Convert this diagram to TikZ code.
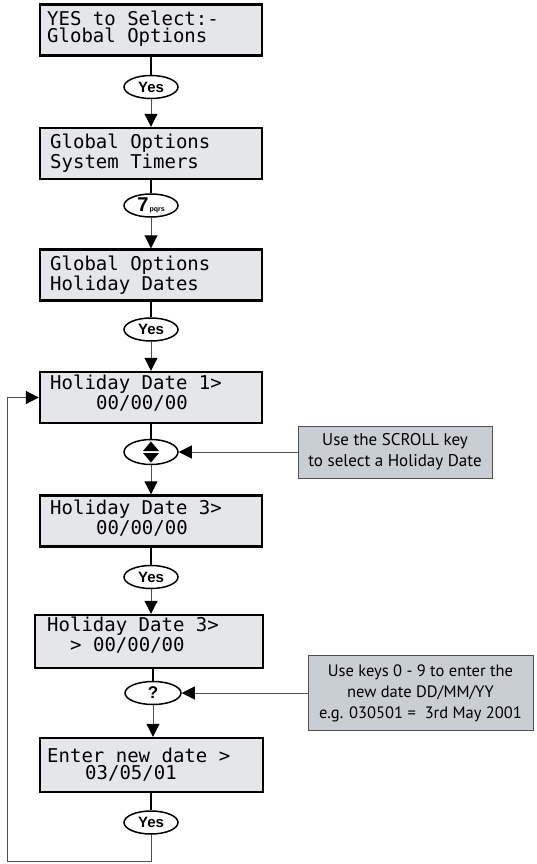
\documentclass[tikz,border=0pt]{standalone}
\usepackage{fontspec}
\setmainfont{Liberation Sans}
\newfontfamily\lcdfont{DejaVu Sans Mono}
\newfontfamily\infofont{PT Sans}
\usetikzlibrary{arrows.meta,shapes.geometric}
\definecolor{lcdfill}{HTML}{E4E6EA}
\definecolor{infofill}{HTML}{C9CDD4}
\definecolor{linegray}{HTML}{505050}
\begin{document}
\begin{tikzpicture}[x=1pt,y=-1pt,
 lcd/.style={draw=black, line width=2.4pt, fill=lcdfill, minimum width=222pt, minimum height=51pt, inner sep=0pt},
 lcdtxt/.style={anchor=base west, inner sep=0pt, align=left, font=\lcdfont\fontsize{19}{#1}\selectfont},
 lcdtxt/.default=14,
 key/.style={ellipse, draw=black, line width=1.5pt, fill=white, minimum width=54pt, minimum height=23pt, inner sep=0pt, font=\bfseries\fontsize{15}{15}\selectfont},
 stem/.style={line width=2.4pt},
 flow/.style={draw=linegray, line width=1pt, -{Triangle[width=13pt,length=13pt,color=black]}},
 info/.style={draw=linegray, line width=1pt, fill=infofill, inner sep=0pt, align=center, font=\infofont\fontsize{#1}{21}\selectfont},
 info/.default=16,
]
\useasboundingbox (0,0) rectangle (536,864);
\fill[white] (0,0) rectangle (536,864);

% LCD boxes
\node[lcd] (b1) at (151,30) {};
\node[lcd] (b2) at (151,153.5) {};
\node[lcd] (b3) at (151,275) {};
\node[lcd] (b4) at (151,397.5) {};
\node[lcd] (b5) at (151,521) {};
\node[lcd, minimum width=228pt, minimum height=53pt] (b6) at (149,641.5) {};
\node[lcd, minimum width=223pt, minimum height=54pt] (b7) at (151.5,765) {};

% LCD texts (anchored at the baseline of the last line)
\node[lcdtxt=17] (t1) at (47,43) {YES to Select:-\\Global Options};
\node[lcdtxt=18] (t2) at (50,168) {Global Options\\System Timers};
\node[lcdtxt=16] (t3) at (50,290) {Global Options\\Holiday Dates};
\node[lcdtxt=14] (t4) at (50,409) {Holiday Date 1>\\\hspace*{46pt}00/00/00};
\node[lcdtxt=14] (t5) at (50,534) {Holiday Date 3>\\\hspace*{46pt}00/00/00};
\node[lcdtxt=13] (t6) at (47,651) {Holiday Date 3>\\\hspace*{23pt}> 00/00/00};
\node[lcdtxt=17] (t7) at (47,779) {Enter new date >\\\hspace*{38pt}03/05/01};

% keys
\node[key] (o1) at (151,87) {Yes};
\node[key] (o2) at (151,205.5) {\fontsize{20}{20}\selectfont 7\fontsize{7}{7}\selectfont\,pqrs};
\node[key] (o3) at (151,329.5) {Yes};
\node[key, minimum height=25pt] (sc) at (151,452) {};
\fill ([shift={(-8,-1)}]sc.center) -- ++(16,0) -- ++(-8,-9.5) -- cycle;
\fill ([shift={(-8,1)}]sc.center) -- ++(16,0) -- ++(-8,9.5) -- cycle;
\node[key] (o5) at (151,577) {Yes};
\node[key, minimum width=56pt, font=\bfseries\fontsize{17}{17}\selectfont] (q) at (153,693) {?};
\node[key] (o7) at (151,822.5) {Yes};

% info boxes
\node[info=17, minimum width=194pt, minimum height=52pt] (i1) at (395,452) {Use the SCROLL key\\to select a Holiday Date};
\node[info=16.5, minimum width=225pt, minimum height=75pt] (i2) at (420.5,693) {Use keys 0 - 9 to enter the\\new date DD/MM/YY\\e.g. 030501 =\ \ 3rd May 2001};

% connectors
\draw[stem] (b1.south) -- (o1.north);
\draw[flow] (o1.south) -- (b2.north);
\draw[stem] (b2.south) -- (o2.north);
\draw[flow] (o2.south) -- (b3.north);
\draw[stem] (b3.south) -- (o3.north);
\draw[flow] (o3.south) -- (b4.north);
\draw[stem] (b4.south) -- (sc.north);
\draw[flow] (sc.south) -- (b5.north);
\draw[stem] (b5.south) -- (o5.north);
\draw[flow] (o5.south) -- (b6.north -| o5.south);
\draw[stem] (b6.south -| q.north) -- (q.north);
\draw[flow] (q.south) -- (b7.north -| q.south);
\draw[stem] (b7.south -| o7.north) -- (o7.north);
\draw[flow] (i1.west) -- (sc.east);
\draw[flow] (i2.west) -- (q.east);
\coordinate (l2) at (7,861);
\draw[flow] (o7.south) |- (l2) |- (b4.west);
\end{tikzpicture}
\end{document}
